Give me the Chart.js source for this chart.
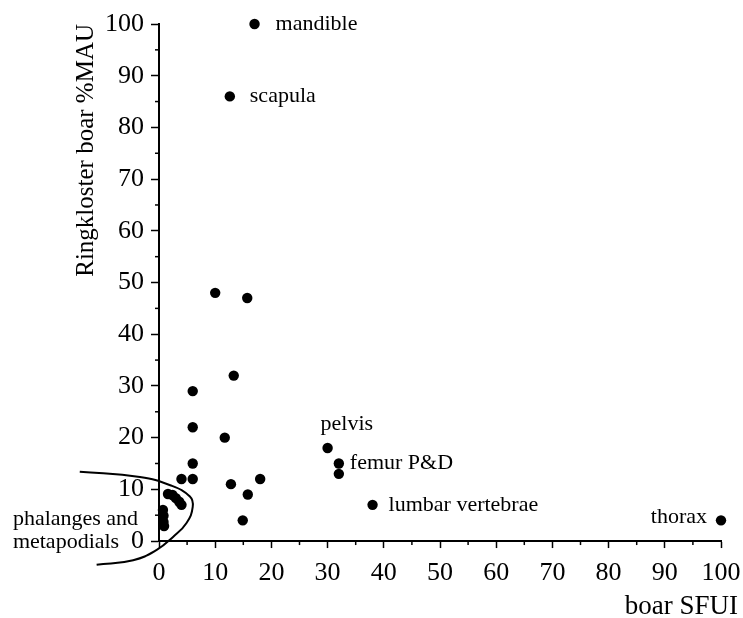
<!DOCTYPE html>
<html><head><meta charset="utf-8">
<script src="https://cdn.jsdelivr.net/npm/chart.js@4/dist/chart.umd.min.js"></script>
<style>html,body{margin:0;padding:0;background:#fff}canvas{display:block}</style>
</head><body>
<canvas id="c" width="743" height="618"></canvas>
<script>
// ---- data ----
const boarSFUI       = [17, 12.6, 10, 15.7, 13.3, 6, 6, 11.7, 6, 4, 6, 12.8, 18, 15.8, 14.9, 30, 32, 32, 38, 100, 1.6, 2.4, 3.0, 3.6, 4.0, 0.7, 0.8, 0.8, 0.9];
const ringklosterMAU = [100, 86, 48, 47, 32, 29, 22, 20, 15, 12, 12, 11, 12, 9, 4, 18, 15, 13, 7, 4, 9.1, 8.9, 8.3, 7.6, 7.0, 6.0, 4.9, 3.7, 2.9];
const pointNames     = ['mandible', 'scapula', '', '', '', '', '', '', '', '', '', '', '', '', '', 'pelvis', 'femur P&D', '', 'lumbar vertebrae', 'thorax', '', '', '', '', '', '', '', '', ''];
const enclosureSFUI  = [-14.1, -3.4, 2.0, 5.5, 6.0, 4.9, 2.5, -0.4, -4.6, -11.1];
const enclosureMAU   = [13.4, 12.4, 10.8, 8.6, 6.6, 3.5, 0.8, -1.7, -3.7, -4.6];
const groupNoteLines = ['phalanges and', 'metapodials'];
const groupNoteSFUI  = [-26, -26];
const groupNoteMAU   = [4.3, -0.2];
const majorTicks     = [0, 10, 20, 30, 40, 50, 60, 70, 80, 90, 100];
const minorTicks     = [5, 15, 25, 35, 45, 55, 65, 75, 85, 95];
const xTitle = 'boar SFUI';
const yTitle = 'Ringkloster boar %MAU';

// ---- styles ----
const SERIF = '"Liberation Serif", "Times New Roman", serif';
const labelStyle = {
  'mandible':         {dx: 21, dy: 0,   align: 'left'},
  'scapula':          {dx: 20, dy: 0,   align: 'left'},
  'pelvis':           {dx: -7, dy: -24, align: 'left'},
  'femur P&D':        {dx: 11, dy: 0,   align: 'left'},
  'lumbar vertebrae': {dx: 16, dy: 0,   align: 'left'},
  'thorax':           {dx: -14, dy: -3, align: 'right'}
};

const points = boarSFUI.map((v, i) => ({x: v, y: ringklosterMAU[i]}));
const enclosure = enclosureSFUI.map((v, i) => ({x: v, y: enclosureMAU[i]}));

function setTicks(scale) {
  scale.ticks = majorTicks.concat(minorTicks).sort((a, b) => a - b).map(v => ({value: v}));
}

const annot = {
  id: 'annot',
  afterDatasetsDraw(chart) {
    const {ctx} = chart;
    const x = chart.scales.x, y = chart.scales.y;
    ctx.save();
    ctx.fillStyle = '#000';
    ctx.font = '22px ' + SERIF;
    ctx.textBaseline = 'middle';
    pointNames.forEach((n, i) => {
      if (!n) return;
      const s = labelStyle[n];
      ctx.textAlign = s.align;
      ctx.fillText(n, x.getPixelForValue(boarSFUI[i]) + s.dx, y.getPixelForValue(ringklosterMAU[i]) + s.dy);
    });
    ctx.textAlign = 'left';
    groupNoteLines.forEach((t, k) => {
      ctx.fillText(t, x.getPixelForValue(groupNoteSFUI[k]), y.getPixelForValue(groupNoteMAU[k]));
    });
    // minor ticks
    ctx.strokeStyle = '#000';
    ctx.lineWidth = 1.5;
    minorTicks.forEach(v => {
      const px = x.getPixelForValue(v);
      ctx.beginPath(); ctx.moveTo(px, x.top); ctx.lineTo(px, x.top + 4); ctx.stroke();
      const py = y.getPixelForValue(v);
      ctx.beginPath(); ctx.moveTo(y.right, py); ctx.lineTo(y.right - 4, py); ctx.stroke();
    });
    ctx.restore();
  }
};

const majorColor = c => (majorTicks.includes(c.tick && c.tick.value) ? '#000' : 'rgba(0,0,0,0)');

new Chart(document.getElementById('c'), {
  type: 'scatter',
  data: {
    datasets: [
      {
        data: points,
        pointRadius: 5.2,
        pointHoverRadius: 5.2,
        pointBackgroundColor: '#000',
        pointBorderWidth: 0,
        showLine: false,
        clip: false
      },
      {
        data: enclosure,
        showLine: true,
        pointRadius: 0,
        borderColor: '#000',
        borderWidth: 2,
        tension: 0.45,
        clip: false,
        fill: false
      }
    ]
  },
  options: {
    responsive: false,
    animation: false,
    events: [],
    layout: {padding: {top: 24, right: 5, bottom: 0, left: 0}},
    plugins: {
      legend: {display: false},
      tooltip: {enabled: false},
      title: {
        display: true,
        text: xTitle,
        position: 'bottom',
        align: 'end',
        color: '#000',
        font: {family: SERIF, size: 27, weight: 'normal', lineHeight: 0.85},
        padding: {top: 0, bottom: 0}
      }
    },
    scales: {
      x: {
        type: 'linear',
        min: 0, max: 100,
        afterBuildTicks: setTicks,
        afterFit(s) { s.height = 54; s.paddingRight = 0; s.paddingLeft = 0; },
        border: {display: true, color: '#000', width: 2},
        grid: {drawOnChartArea: false, drawTicks: true, tickLength: 7, tickWidth: 1.5, tickColor: majorColor},
        ticks: {
          color: '#000',
          padding: 10,
          maxRotation: 0,
          autoSkip: false,
          font: {family: SERIF, size: 26},
          callback: v => (majorTicks.includes(v) ? String(v) : '')
        }
      },
      y: {
        type: 'linear',
        min: 0, max: 100,
        afterBuildTicks: setTicks,
        afterFit(s) { s.width = 159; },
        border: {display: true, color: '#000', width: 2},
        grid: {drawOnChartArea: false, drawTicks: true, tickLength: 8, tickWidth: 1.5, tickColor: majorColor},
        title: {
          display: true,
          text: yTitle,
          align: 'end',
          color: '#000',
          font: {family: SERIF, size: 25, weight: 'normal', lineHeight: 1.2},
          padding: {top: 71, bottom: 0}
        },
        ticks: {
          color: '#000',
          padding: 7,
          autoSkip: false,
          font: {family: SERIF, size: 26},
          callback: v => (majorTicks.includes(v) ? String(v) : '')
        }
      },
      yR: {
        type: 'linear',
        position: 'right',
        min: 0, max: 100,
        display: true,
        afterFit(s) { s.width = 17; },
        border: {display: false},
        grid: {display: false},
        ticks: {display: false}
      }
    }
  },
  plugins: [annot]
});
</script>
</body></html>
